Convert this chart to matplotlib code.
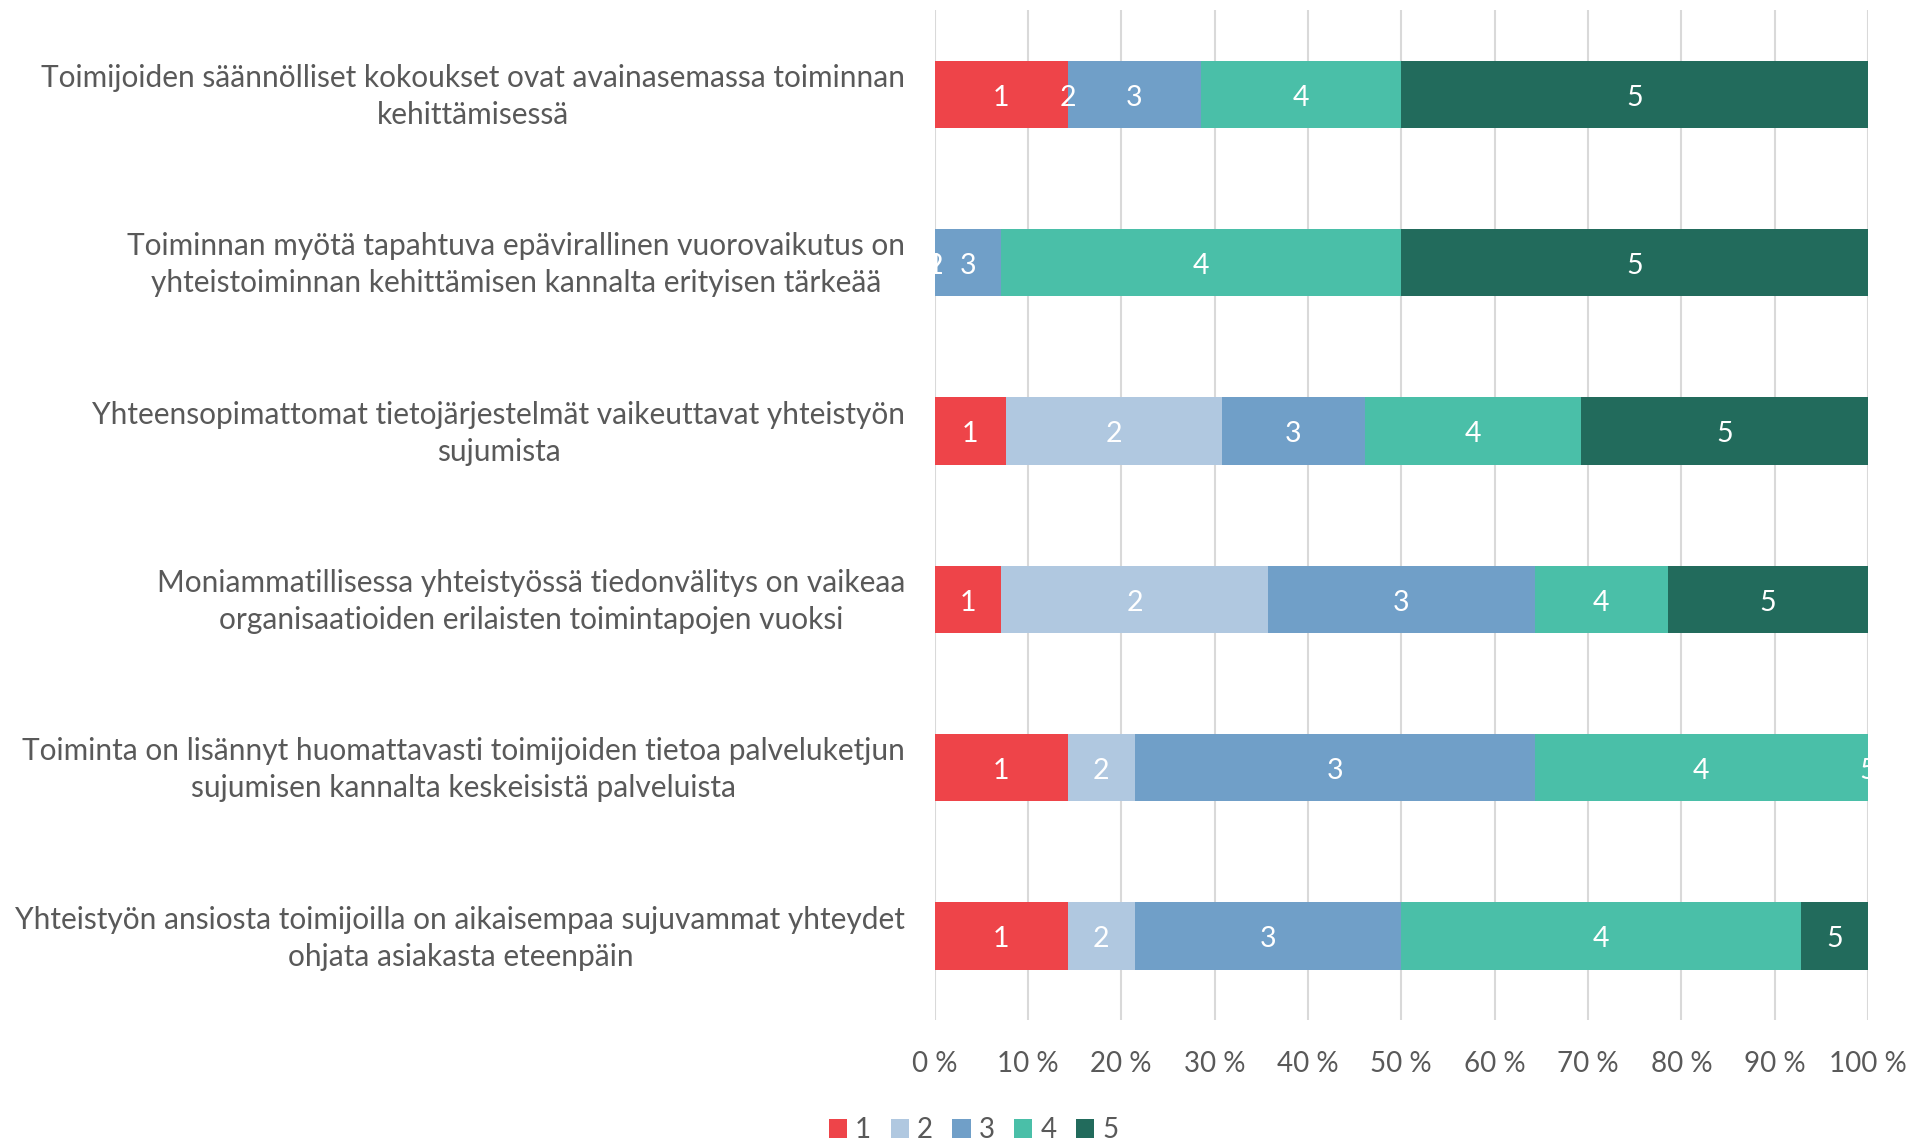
import matplotlib
matplotlib.use("Agg")
import matplotlib.pyplot as plt
from matplotlib.patches import Patch
import matplotlib.transforms as mtransforms
import numpy as np

plt.rcParams['font.family'] = ['Lato', 'DejaVu Sans']

categories = [
    "Toimijoiden säännölliset kokoukset ovat avainasemassa toiminnan\nkehittämisessä",
    "Toiminnan myötä tapahtuva epävirallinen vuorovaikutus on\nyhteistoiminnan kehittämisen kannalta erityisen tärkeää",
    "Yhteensopimattomat tietojärjestelmät vaikeuttavat yhteistyön\nsujumista",
    "Moniammatillisessa yhteistyössä tiedonvälitys on vaikeaa\norganisaatioiden erilaisten toimintapojen vuoksi",
    "Toiminta on lisännyt huomattavasti toimijoiden tietoa palveluketjun\nsujumisen kannalta keskeisistä palveluista",
    "Yhteistyön ansiosta toimijoilla on aikaisempaa sujuvammat yhteydet\nohjata asiakasta eteenpäin",
]
series_names = ["1", "2", "3", "4", "5"]
# response counts per category for answers 1..5
s1 = [2, 0, 1, 1, 2, 2]
s2 = [0, 0, 3, 4, 1, 1]
s3 = [2, 1, 2, 4, 6, 4]
s4 = [3, 6, 3, 2, 5, 6]
s5 = [7, 7, 4, 3, 0, 1]
xticklabels = ["0 %", "10 %", "20 %", "30 %", "40 %", "50 %", "60 %", "70 %", "80 %", "90 %", "100 %"]
colors = ["#EE4449", "#B0C8E0", "#709FC8", "#4ABFA8", "#226B5C"]

counts = np.array([s1, s2, s3, s4, s5], dtype=float)
pct = counts / counts.sum(axis=0) * 100

fig = plt.figure(figsize=(19.13, 11.40), dpi=100)
ax = fig.add_axes([0.4885, 0.105, 0.4880, 0.886])

y = np.arange(len(categories))
left = np.zeros(len(categories))
for i, name in enumerate(series_names):
    ax.barh(y, pct[i], left=left, height=0.4, color=colors[i], label=name, zorder=3)
    for j in range(len(categories)):
        t = ax.text(left[j] + pct[i][j] / 2, y[j] + 0.02, name, ha='center', va='center',
                    color='white', fontsize=20.5, zorder=4, clip_on=True)
        t.set_clip_box(ax.bbox)
    left += pct[i]

ax.set_xlim(0, 100)
ax.set_ylim(len(categories) - 0.5, -0.5)
ax.set_xticks(np.arange(0, 101, 10))
ax.set_xticklabels(xticklabels, fontsize=20, color='#595959')
ax.set_yticks(y)
ax.set_yticklabels(categories, fontsize=21.5, color='#595959', ha='right',
                   multialignment='center', linespacing=1.4)
ax.tick_params(axis='both', length=0)
ax.tick_params(axis='x', pad=22)
ax.tick_params(axis='y', pad=21)
shift = mtransforms.ScaledTranslation(0, 5 / 100, fig.dpi_scale_trans)
for lab in ax.get_yticklabels():
    lab.set_transform(lab.get_transform() + shift)
ax.grid(axis='x', color='#D9D9D9', linewidth=1.5, zorder=0)
for s in ax.spines.values():
    s.set_visible(False)

handles = [Patch(facecolor=c, label=n) for c, n in zip(colors, series_names)]
fig.legend(handles=handles, loc='center', bbox_to_anchor=(0.509, 0.0085), ncol=5,
           frameon=False, fontsize=20, handlelength=0.65, handleheight=0.65,
           handletextpad=0.3, columnspacing=0.7, labelcolor='#595959')

fig.savefig("out.png", dpi=100)
